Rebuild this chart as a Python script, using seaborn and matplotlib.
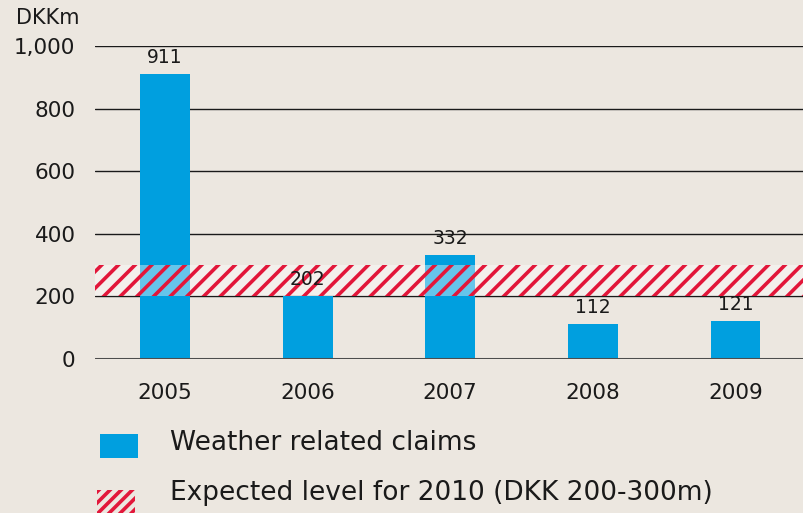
import pandas as pd
import numpy as np
import seaborn as sns
import matplotlib.pyplot as plt
from matplotlib.patches import Rectangle

years = ["2005", "2006", "2007", "2008", "2009"]
claims = [911, 202, 332, 112, 121]
band_low, band_high = 200, 300
yticks = [0, 200, 400, 600, 800, 1000]
ytick_labels = ["0", "200", "400", "600", "800", "1,000"]
legend_labels = ["Weather related claims", "Expected level for 2010 (DKK 200-300m)"]

bg = "#ECE7E0"
blue = "#009FDF"
red = "#E2173A"
ink = "#1a1a1a"

sns.set_style("white")
plt.rcParams['font.family'] = ['DejaVu Sans']
plt.rcParams['hatch.linewidth'] = 2.6

df = pd.DataFrame({"year": years, "claims": claims})

fig = plt.figure(figsize=(8.04, 5.13), dpi=100, facecolor=bg)
ax = fig.add_axes([95/804, 1 - 359/513, 709/804, 313/513])
ax.set_facecolor(bg)

# gridlines sit behind the bars, zero line on top
for y in yticks[1:]:
  ax.axhline(y, color=ink, lw=1.0, zorder=0)
ax.axhline(0, color="#4d4d4d", lw=2.2, zorder=5)

sns.barplot(data=df, x="year", y="claims", color=blue, width=0.35, saturation=1,
            linewidth=0, ax=ax, zorder=2)

# expected band drawn over the bars
ax.axhspan(band_low, band_high, facecolor=(1, 1, 1, 0.4), edgecolor=red, hatch="//", lw=0, zorder=4)

for i, v in enumerate(claims):
  ax.text(i, v + 22, str(v), ha="center", va="bottom", fontsize=13.5, color=ink, zorder=6)

ax.set_xlim(-0.49, 4.48)
ax.set_ylim(0, 1000)
ax.set_yticks(yticks)
ax.set_yticklabels(ytick_labels)
ax.tick_params(axis="both", length=0, labelsize=15.5, colors=ink)
ax.tick_params(axis="x", pad=17)
ax.tick_params(axis="y", pad=14)
ax.set_xlabel("")
ax.set_ylabel("")
for s in ax.spines.values():
  s.set_visible(False)

fig.text(16/804, 1 - 18/513, "DKKm", fontsize=15, va="center", ha="left", color=ink)

# legend, placed by hand
fig.add_artist(Rectangle((100/804, 1 - 458/513), 38/804, 24/513, transform=fig.transFigure,
                         facecolor=blue, edgecolor="none"))
fig.add_artist(Rectangle((97/804, 1 - 514/513), 38/804, 24/513, transform=fig.transFigure,
                         facecolor=bg, edgecolor=red, hatch="///", lw=0))
fig.text(170/804, 1 - 443/513, legend_labels[0], fontsize=19, va="center", ha="left", color=ink)
fig.text(170/804, 1 - 493/513, legend_labels[1], fontsize=19, va="center", ha="left", color=ink)

fig.savefig("out.png", dpi=100, facecolor=bg)
